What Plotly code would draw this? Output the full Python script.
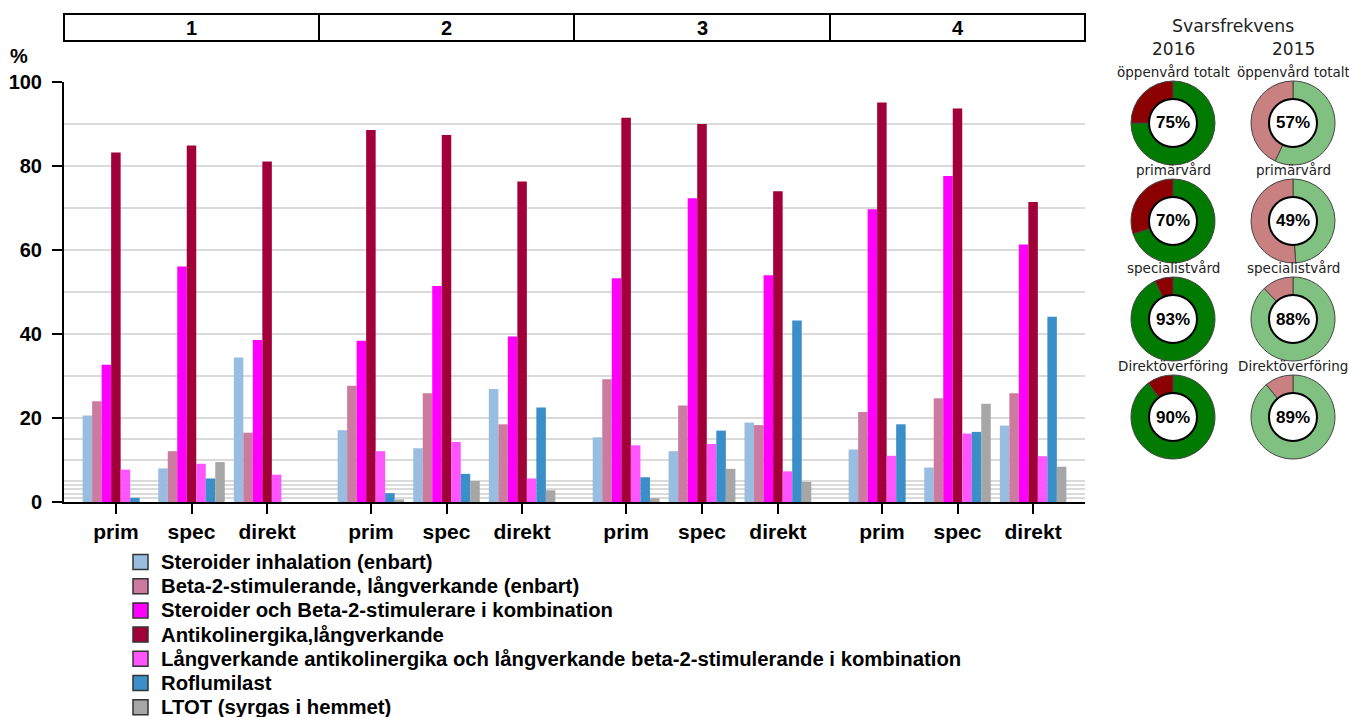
import plotly.graph_objects as go

W, H = 1349, 717

# ---------------- data ----------------
panels = ["1", "2", "3", "4"]
categories = ["prim", "spec", "direkt"]

series_names = [
    "Steroider inhalation (enbart)",
    "Beta-2-stimulerande, långverkande (enbart)",
    "Steroider och Beta-2-stimulerare i kombination",
    "Antikolinergika,långverkande",
    "Långverkande antikolinergika och långverkande beta-2-stimulerande i kombination",
    "Roflumilast",
    "LTOT (syrgas i hemmet)",
]
series_colors = ["#98BDE0", "#CC7AA0", "#FF00FF", "#A20038", "#FF55FF", "#3B8FC9", "#A6A6A6"]

# values per panel: [prim, spec, direkt]
steroider_inh = [[20.6, 8.0, 34.4], [17.1, 12.8, 26.9], [15.4, 12.1, 18.9], [12.5, 8.2, 18.2]]
beta2_lang = [[24.0, 12.1, 16.5], [27.7, 25.9, 18.5], [29.2, 23.0, 18.3], [21.4, 24.7, 25.9]]
steroid_beta2 = [[32.7, 56.1, 38.6], [38.4, 51.4, 39.4], [53.3, 72.3, 54.0], [69.7, 77.6, 61.3]]
antikolinergika = [[83.2, 84.9, 81.1], [88.6, 87.4, 76.3], [91.5, 90.0, 74.0], [95.1, 93.7, 71.4]]
lama_laba = [[7.7, 9.1, 6.5], [12.1, 14.3, 5.6], [13.5, 13.8, 7.3], [11.0, 16.3, 10.9]]
roflumilast = [[1.0, 5.6, 0.0], [2.1, 6.7, 22.5], [5.9, 17.0, 43.2], [18.5, 16.7, 44.1]]
ltot = [[0.0, 9.5, 0.0], [0.6, 5.0, 2.8], [0.9, 7.9, 4.8], [0.0, 23.4, 8.4]]
series_values = [steroider_inh, beta2_lang, steroid_beta2, antikolinergika, lama_laba, roflumilast, ltot]

y_ticks = [0, 20, 40, 60, 80, 100]
y_minor_grid = [1, 2, 3, 4, 5, 10, 15, 30, 50, 70, 90]

resp_groups = ["öppenvård totalt", "primärvård", "specialistvård", "Direktöverföring"]
resp_years = ["2016", "2015"]
resp_2016 = [75, 70, 93, 90]
resp_2015 = [57, 49, 88, 89]
resp_colors = {"2016": ("#007A00", "#8B0000"), "2015": ("#80C080", "#C98080")}

# ---------------- layout helpers ----------------
def fx(px):
    return px / W

def fy(py):
    return 1 - py / H

FONT = "Liberation Sans, Arial, sans-serif"
SOFT = "DejaVu Sans, Verdana, sans-serif"

panel_edges = [64, 319, 574, 830, 1085]
y_top, y_bot = 82, 502

fig = go.Figure()

for p in range(len(panels)):
    xa = "x" if p == 0 else f"x{p+1}"
    for s, name in enumerate(series_names):
        fig.add_trace(go.Bar(
            x=categories, y=series_values[s][p], name=name,
            marker=dict(color=series_colors[s], line=dict(width=0)),
            xaxis=xa, yaxis="y", legendgroup=name, showlegend=False,
            offsetgroup=str(s),
        ))

layout_axes = {}
for p in range(len(panels)):
    key = "xaxis" if p == 0 else f"xaxis{p+1}"
    layout_axes[key] = dict(
        domain=[fx(panel_edges[p]), fx(panel_edges[p + 1])],
        anchor="y", type="category", range=[-0.6865, 2.6865],
        showline=True, linecolor="black", linewidth=2,
        ticks="outside", ticklen=10, tickwidth=2, tickcolor="black",
        tickfont=dict(family=FONT, size=21, color="black", weight="bold"),
        showgrid=False, zeroline=False, fixedrange=True,
    )

fig.update_layout(
    **layout_axes,
    yaxis=dict(
        domain=[fy(y_bot), fy(y_top)], range=[0, 100], anchor="x",
        tickvals=y_ticks, ticks="outside", ticklen=10, tickwidth=2, tickcolor="black",
        showline=True, linecolor="black", linewidth=2, ticklabelstandoff=6,
        tickfont=dict(family=FONT, size=20, color="black", weight="bold"),
        showgrid=True, gridcolor="#DADADA", gridwidth=1.5, zeroline=False,
        minor=dict(tickmode="array", tickvals=y_minor_grid, showgrid=True,
                   gridcolor="#DADADA", gridwidth=1.5, ticks=""),
    ),
    barmode="group", bargap=0.12, bargroupgap=0,
    width=W, height=H, autosize=False,
    margin=dict(l=0, r=0, t=0, b=0, autoexpand=False),
    paper_bgcolor="white", plot_bgcolor="white",
    showlegend=False,
)

shapes = []
annotations = []


def label(px, py, text, font, xanchor="center"):
    annotations.append(dict(xref="paper", yref="paper", x=fx(px), y=fy(py), text=text,
                            xanchor=xanchor, yanchor="middle", showarrow=False, font=font))


# panel headers
for p, lab in enumerate(panels):
    shapes.append(dict(type="rect", xref="paper", yref="paper",
                       x0=fx(panel_edges[p]), x1=fx(panel_edges[p + 1]),
                       y0=fy(41), y1=fy(14), line=dict(color="black", width=2),
                       fillcolor="white"))
    label((panel_edges[p] + panel_edges[p + 1]) / 2, 28, lab,
          dict(family=FONT, size=20, color="black", weight="bold"))

label(19, 56, "%", dict(family=FONT, size=20, color="black", weight="bold"))

# legend (drawn as squares + text)
leg_x, leg_y0, leg_dy, sq = 133, 562, 24.2, 15
for i, name in enumerate(series_names):
    cy = leg_y0 + i * leg_dy
    shapes.append(dict(type="rect", xref="paper", yref="paper",
                       x0=fx(leg_x), x1=fx(leg_x + sq), y0=fy(cy + sq / 2), y1=fy(cy - sq / 2),
                       line=dict(color="#333", width=1.5), fillcolor=series_colors[i]))
    label(159, cy, name, dict(family=FONT, size=20.3, color="black", weight="bold"), xanchor="left")

# response-rate donuts
label(1233, 26, "Svarsfrekvens", dict(family=SOFT, size=17.3, color="#222"))
col_x = [1173, 1293]
row_y = [123, 221, 319, 417]
R, RH = 42, 24
for c, year in enumerate(resp_years):
    vals = resp_2016 if year == "2016" else resp_2015
    label(col_x[c], 49, year, dict(family=SOFT, size=17, color="#222"))
    for r, grp in enumerate(resp_groups):
        cx, cy = col_x[c], row_y[r]
        v = vals[r]
        fig.add_trace(go.Pie(
            values=[v, 100 - v], labels=["svar", "ej svar"],
            marker=dict(colors=list(resp_colors[year]), line=dict(color="#444", width=1)),
            hole=RH / R, sort=False, direction="clockwise", rotation=0,
            textinfo="none", hoverinfo="label+percent", showlegend=False,
            domain=dict(x=[fx(cx - R), fx(cx + R)], y=[fy(cy + R), fy(cy - R)]),
        ))
        shapes.append(dict(type="circle", xref="paper", yref="paper",
                           xsizemode="pixel", ysizemode="pixel",
                           xanchor=fx(cx), yanchor=fy(cy),
                           x0=-RH, x1=RH, y0=-RH, y1=RH,
                           line=dict(color="black", width=2), fillcolor="white"))
        label(cx, cy, f"{v}%", dict(family=FONT, size=17, color="black", weight="bold"))
        label(cx, cy - 51, grp, dict(family=SOFT, size=13.5, color="#222"))

fig.update_layout(shapes=shapes, annotations=annotations)
fig.write_html("out.html")
